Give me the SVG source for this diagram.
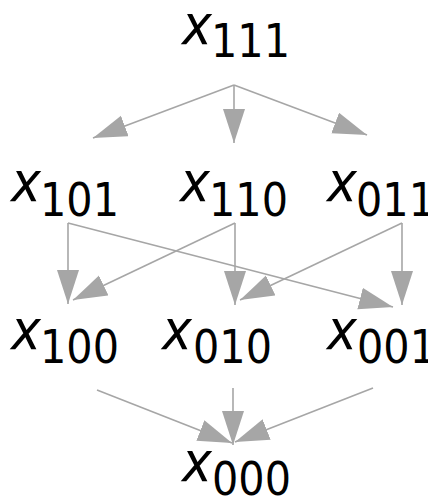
<svg xmlns="http://www.w3.org/2000/svg" width="428" height="500" viewBox="0 0 428 500">
<defs>
<marker id="ah" markerUnits="userSpaceOnUse" markerWidth="36" markerHeight="24" refX="34" refY="11" orient="auto" viewBox="0 0 36 24">
<path d="M0,0 L34,11 L0,22 z" fill="#a6a6a6"/>
</marker>
</defs>
<style>
.e{stroke:#a6a6a6;stroke-width:1.6;fill:none;marker-end:url(#ah)}
.x{font-family:"DejaVu Sans Condensed","DejaVu Sans",sans-serif;font-stretch:condensed;font-style:oblique;font-size:56px;fill:#000}
.s{font-family:"DejaVu Sans Condensed","DejaVu Sans",sans-serif;font-stretch:condensed;font-size:46px;fill:#000}
</style>
<rect width="428" height="500" fill="#fff"/>
<g id="edges">
<path class="e" d="M234,85 L93,138"/>
<path class="e" d="M234,85 L234,143"/>
<path class="e" d="M234,85 L367,135"/>
<path class="e" d="M68,223 L68,304"/>
<path class="e" d="M68,223 L393,307"/>
<path class="e" d="M235,223 L235,305"/>
<path class="e" d="M235,223 L73,300"/>
<path class="e" d="M402,223 L402,305"/>
<path class="e" d="M402,223 L240,300"/>
<path class="e" d="M97,390 L232,443"/>
<path class="e" d="M233,388 L233,445"/>
<path class="e" d="M373,388 L235,442"/>
</g>
<g id="x111"><text x="182" y="44" class="x">x</text><text x="211" y="57" class="s">111</text></g>
<g id="x101"><text x="11" y="201" class="x">x</text><text x="40" y="216" class="s">101</text></g>
<g id="x110"><text x="180" y="201" class="x">x</text><text x="209" y="216" class="s">110</text></g>
<g id="x011"><text x="327" y="201" class="x">x</text><text x="356" y="216" class="s">011</text></g>
<g id="x100"><text x="11" y="349" class="x">x</text><text x="40" y="363" class="s">100</text></g>
<g id="x010"><text x="162" y="349" class="x">x</text><text x="193" y="363" class="s">010</text></g>
<g id="x001"><text x="327" y="349" class="x">x</text><text x="357" y="363" class="s">001</text></g>
<g id="x000"><text x="182" y="481" class="x">x</text><text x="212" y="495" class="s">000</text></g>
</svg>
